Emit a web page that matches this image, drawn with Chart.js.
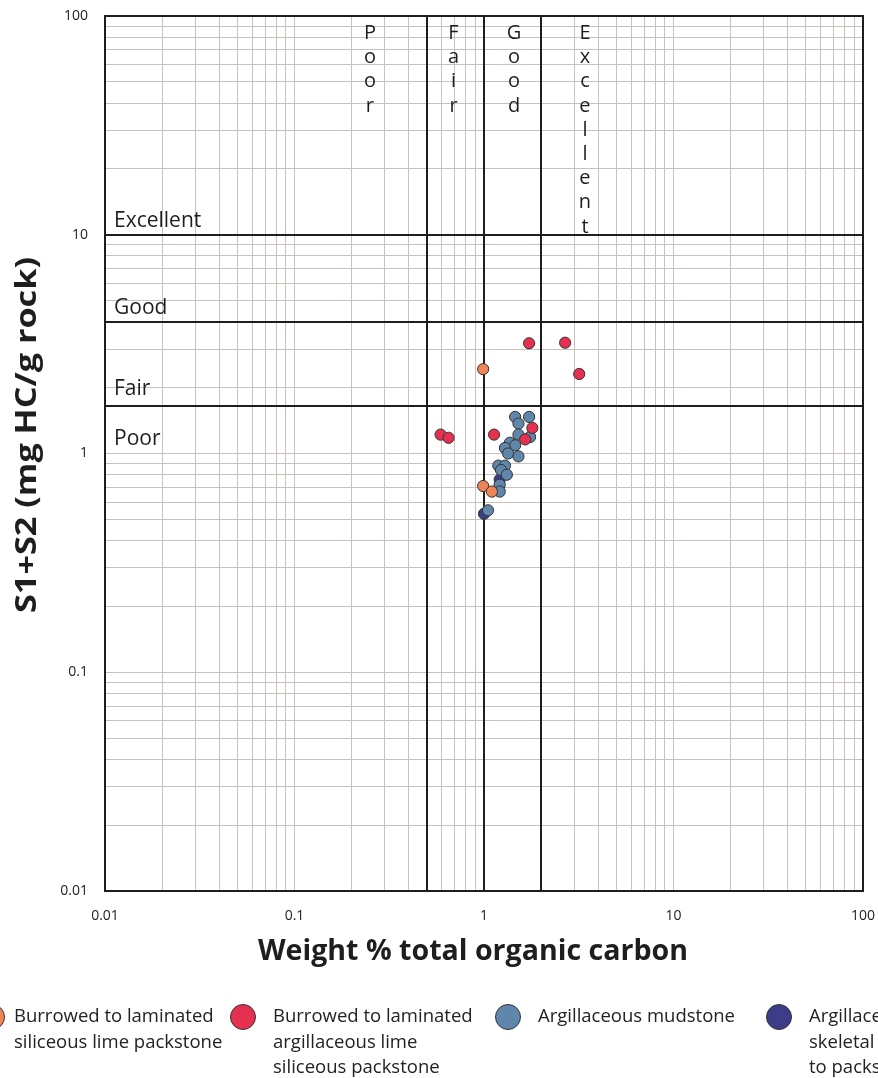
<!DOCTYPE html>
<html>
<head>
<meta charset="utf-8">
<script src="https://cdn.jsdelivr.net/npm/chart.js@4.4.1/dist/chart.umd.min.js"></script>
<style>
  body { margin: 0; background: #fff; }
  canvas { display: block; }
</style>
</head>
<body>
<canvas id="pyro" width="878" height="1078"></canvas>
<script>
// TOC (wt %) and S1+S2 (mg HC/g rock) per lithofacies
var siliceousPackTOC  = [0.99, 0.99, 1.10];
var siliceousPackS1S2 = [2.43, 0.71, 0.67];

var argLimePackTOC  = [1.73, 2.68, 3.18, 0.59, 0.65, 1.13, 1.80, 1.65];
var argLimePackS1S2 = [3.19, 3.21, 2.31, 1.22, 1.18, 1.22, 1.31, 1.16];

var mudstoneTOC  = [1.46, 1.73, 1.52, 1.52, 1.75, 1.37, 1.46, 1.29, 1.34, 1.52, 1.19, 1.29, 1.23, 1.32, 1.21, 1.21, 1.05];
var mudstoneS1S2 = [1.47, 1.47, 1.37, 1.22, 1.19, 1.12, 1.09, 1.06, 1.00, 0.97, 0.88, 0.88, 0.84, 0.80, 0.72, 0.67, 0.55];

var skeletalTOC  = [1.21, 1.00];
var skeletalS1S2 = [0.76, 0.53];

var seriesNames = [
  ['Burrowed to laminated', 'siliceous lime packstone'],
  ['Burrowed to laminated', 'argillaceous lime', 'siliceous packstone'],
  ['Argillaceous mudstone'],
  ['Argillaceous', 'skeletal wackestone', 'to packstone']
];
var seriesColors = ['#f08457', '#e5304f', '#5f86ab', '#3d3c89'];

var tickValues = [0.01, 0.1, 1, 10, 100];
var tickLabels = ['0.01', '0.1', '1', '10', '100'];

// source rock quality limits
var tocLimits = [0.5, 1, 2];
var s1s2Limits = [1.65, 4, 10];
var tocClasses = ['Poor', 'Fair', 'Good', 'Excellent'];
var tocClassX = [0.25, 0.69, 1.44, 3.41];
var s1s2Classes = ['Poor', 'Fair', 'Good', 'Excellent'];
var s1s2ClassY = [445, 395, 314, 227];

var xTitle = 'Weight % total organic carbon';
var yTitle = 'S1+S2 (mg HC/g rock)';

function pts(xs, ys) {
  return xs.map(function (x, i) { return { x: x, y: ys[i] }; });
}

function logTicks(scale) {
  var t = [];
  for (var e = -2; e <= 1; e++) {
    for (var m = 1; m <= 9; m++) t.push({ value: Number((m * Math.pow(10, e)).toPrecision(6)) });
  }
  t.push({ value: 100 });
  scale.ticks = t;
}

function tickLabel(value) {
  var i = tickValues.findIndex(function (v) { return Math.abs(v - value) / v < 1e-6; });
  return i >= 0 ? tickLabels[i] : '';
}

// draw text squeezed/stretched to a given width
function fitText(c, s, x, y, w) {
  var m = c.measureText(s).width;
  c.save();
  c.translate(x, y);
  c.scale(w / m, 1);
  c.fillText(s, 0, 0);
  c.restore();
}

var FONT = '"Open Sans", "Noto Sans", sans-serif';
var gridColor = '#c9c1bc';

var overlay = {
  id: 'overlay',
  beforeDraw: function (chart) {
    var c = chart.ctx;
    c.save();
    c.fillStyle = '#fff';
    c.fillRect(0, 0, chart.width, chart.height);
    c.restore();
  },
  beforeDatasetsDraw: function (chart) {
    var c = chart.ctx, a = chart.chartArea;
    var xs = chart.scales.x, ys = chart.scales.y;
    c.save();
    c.strokeStyle = '#1e1e1e';
    c.lineWidth = 2;
    tocLimits.forEach(function (v) {
      var px = Math.round(xs.getPixelForValue(v));
      c.beginPath(); c.moveTo(px, a.top); c.lineTo(px, a.bottom); c.stroke();
    });
    s1s2Limits.forEach(function (v) {
      var py = Math.round(ys.getPixelForValue(v));
      c.beginPath(); c.moveTo(a.left, py); c.lineTo(a.right, py); c.stroke();
    });

    c.fillStyle = '#1e1e1e';
    c.font = '21px ' + FONT;
    c.textAlign = 'left';
    c.textBaseline = 'alphabetic';
    s1s2Classes.forEach(function (s, i) {
      c.fillText(s, a.left + 9, s1s2ClassY[i]);
    });

    c.font = '20px ' + FONT;
    c.textAlign = 'center';
    tocClasses.forEach(function (s, i) {
      var px = xs.getPixelForValue(tocClassX[i]);
      for (var k = 0; k < s.length; k++) {
        c.fillText(s[k], px, a.top + 23 + k * 24.2);
      }
    });
    c.restore();
  },
  afterDraw: function (chart) {
    var c = chart.ctx, a = chart.chartArea;
    c.save();
    c.strokeStyle = '#1e1e1e';
    c.lineWidth = 2;
    c.strokeRect(a.left, a.top, a.right - a.left, a.bottom - a.top);

    c.fillStyle = '#1e1e1e';
    c.textAlign = 'center';
    c.textBaseline = 'middle';
    c.font = 'bold 28px ' + FONT;
    fitText(c, xTitle, 473, 952, 430);

    c.save();
    c.translate(28, 435);
    c.rotate(-Math.PI / 2);
    c.font = 'bold 29px ' + FONT;
    fitText(c, yTitle, 0, 0, 356);
    c.restore();

    // legend
    var legendX = [-8, 243, 508, 779];
    c.font = '18.5px ' + FONT;
    c.textAlign = 'left';
    c.textBaseline = 'middle';
    seriesNames.forEach(function (lines, i) {
      c.beginPath();
      c.arc(legendX[i], 1017, 12.5, 0, Math.PI * 2);
      c.fillStyle = seriesColors[i];
      c.fill();
      c.lineWidth = 1;
      c.strokeStyle = '#333';
      c.stroke();
      c.fillStyle = '#222';
      lines.forEach(function (ln, k) {
        c.fillText(ln, legendX[i] + (i === 0 ? 22 : 30), 1017 + k * 25.5);
      });
    });
    c.restore();
  }
};

var ctx = document.getElementById('pyro');

var datasets = [
  { label: seriesNames[1].join(' '), data: pts(argLimePackTOC, argLimePackS1S2), backgroundColor: seriesColors[1], order: 0 },
  { label: seriesNames[0].join(' '), data: pts(siliceousPackTOC, siliceousPackS1S2), backgroundColor: seriesColors[0], order: 1 },
  { label: seriesNames[2].join(' '), data: pts(mudstoneTOC, mudstoneS1S2), backgroundColor: seriesColors[2], order: 2 },
  { label: seriesNames[3].join(' '), data: pts(skeletalTOC, skeletalS1S2), backgroundColor: seriesColors[3], order: 3 }
];
datasets.forEach(function (d) {
  d.pointRadius = 5.6;
  d.borderWidth = 1;
  d.borderColor = '#333';
});

var chart = new Chart(ctx, {
  type: 'scatter',
  data: { datasets: datasets },
  options: {
    responsive: false,
    animation: false,
    events: [],
    layout: { padding: { top: 16, right: 15, left: 0, bottom: 0 } },
    plugins: { legend: { display: false }, tooltip: { enabled: false } },
    scales: {
      x: {
        type: 'logarithmic',
        min: 0.01,
        max: 100,
        afterBuildTicks: logTicks,
        afterFit: function (s) { s.height = 187; s.paddingLeft = 0; s.paddingRight = 0; },
        grid: { color: gridColor, lineWidth: 1, drawTicks: false },
        border: { display: false },
        ticks: {
          autoSkip: false, maxRotation: 0, padding: 17,
          color: '#222', font: { family: FONT, size: 14 },
          callback: tickLabel
        }
      },
      y: {
        type: 'logarithmic',
        min: 0.01,
        max: 100,
        afterBuildTicks: logTicks,
        afterFit: function (s) { s.width = 105; s.paddingTop = 0; s.paddingBottom = 0; },
        grid: { color: gridColor, lineWidth: 1, drawTicks: false },
        border: { display: false },
        ticks: {
          autoSkip: false, padding: 17,
          color: '#222', font: { family: FONT, size: 14 },
          callback: tickLabel
        }
      }
    }
  },
  plugins: [overlay]
});
</script>
</body>
</html>
